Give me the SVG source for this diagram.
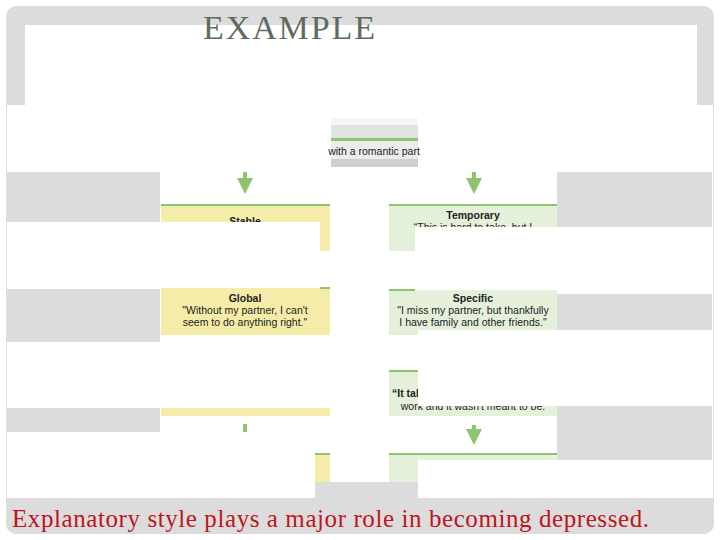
<svg xmlns="http://www.w3.org/2000/svg" width="720" height="540" viewBox="0 0 720 540">
<style>
.g{fill:#dcdcdc}.w{fill:#fff}.y{fill:#f4eca8}.lg{fill:#e5f0da}.gl{fill:#8dc46f}
.t{font-family:"Liberation Sans Narrow","Liberation Sans",sans-serif;font-size:10.5px;fill:#222;text-anchor:middle}
.b{font-weight:bold}
</style>
<defs><marker id="a" markerWidth="4" markerHeight="4" refX="2" refY="2" orient="auto"><path d="M0,0L4,2L0,4z" fill="#8dc46f"/></marker></defs>
<rect width="720" height="540" fill="#fff"/>
<rect x="6" y="6" width="708" height="528" rx="10" class="g"/>
<rect x="25" y="25" width="672" height="82" class="w"/>
<rect x="7" y="105" width="706" height="393" class="w"/>
<text x="203" y="39" font-family="Liberation Serif,serif" font-size="34" fill="#5e6b60" textLength="172">EXAMPLE</text>
<rect x="7" y="172" width="153" height="50" class="g"/>
<rect x="557" y="172" width="155" height="55" class="g"/>
<rect x="7" y="289" width="153" height="53" class="g"/>
<rect x="557" y="294" width="155" height="44" class="g"/>
<rect x="7" y="408" width="153" height="24" class="g"/>
<rect x="315" y="482" width="103" height="16" class="g"/>
<g id="top">
<rect x="331" y="118" width="87" height="7" fill="#f6f6f6"/>
<rect x="331" y="125" width="87" height="13" fill="#e3e3e3"/>
<rect x="331" y="138" width="87" height="3" class="gl"/>
<rect x="331" y="141" width="87" height="18" fill="#ececec"/>
<rect x="331" y="159" width="87" height="8" fill="#cfcfcf"/>
<text x="374" y="155" class="t">with a romantic part</text>
</g>
<g id="connectors" stroke="#8dc46f" stroke-width="4">
<line x1="245" y1="172" x2="245" y2="186" marker-end="url(#a)"/>
<line x1="474" y1="172" x2="474" y2="186" marker-end="url(#a)"/>
<line x1="474" y1="425" x2="474" y2="437" marker-end="url(#a)"/>
<line x1="245" y1="424" x2="245" y2="432"/>
</g>
<g id="stable">
<rect x="161" y="204" width="169" height="47" class="y"/>
<rect x="161" y="204" width="169" height="2" class="gl"/>
<text x="245" y="225" class="t b">Stable</text>
</g>
<g id="temporary">
<rect x="389" y="204" width="168" height="47" class="lg"/>
<rect x="389" y="204" width="168" height="2" class="gl"/>
<text x="473" y="219" class="t b">Temporary</text>
<text x="473" y="231" class="t">“This is hard to take, but I</text>
</g>
<rect x="7" y="222" width="313" height="66" class="w"/>
<rect x="415" y="227" width="297" height="66" class="w"/>
<g id="global">
<rect x="161" y="288" width="169" height="47" class="y"/>
<rect x="320" y="287" width="10" height="2" class="gl"/>
<text x="245" y="302" class="t b">Global</text>
<text x="245" y="314" class="t">"Without my partner, I can't</text>
<text x="245" y="326" class="t">seem to do anything right."</text>
</g>
<g id="specific">
<rect x="389" y="290" width="168" height="45" class="lg"/>
<rect x="389" y="289" width="26" height="2" class="gl"/>
<text x="473" y="302" class="t b">Specific</text>
<text x="473" y="314" class="t">"I miss my partner, but thankfully</text>
<text x="473" y="326" class="t">I have family and other friends."</text>
</g>
<g id="left3"><rect x="161" y="408" width="169" height="8" class="y"/></g>
<g id="right3">
<rect x="389" y="371" width="168" height="45" class="lg"/>
<rect x="389" y="370" width="168" height="2" class="gl"/>
<text x="392" y="397" class="t b" style="text-anchor:start">“It takes two to make a relationship</text>
<text x="473" y="410" class="t">work and it wasn't meant to be.</text>
</g>
<rect x="418" y="330" width="294" height="76" class="w"/>
<rect x="557" y="406" width="155" height="54" class="g"/>
<g id="left4">
<rect x="315" y="453" width="15" height="29" class="y"/>
<rect x="315" y="453" width="15" height="2" class="gl"/>
</g>
<g id="right4">
<rect x="389" y="453" width="168" height="29" class="lg"/>
<rect x="389" y="453" width="168" height="2" class="gl"/>
</g>
<rect x="10" y="432" width="305" height="66" class="w"/>
<rect x="418" y="460" width="294" height="34" class="w"/>
<text x="12" y="527" font-family="Liberation Serif,serif" font-size="25" fill="#c0141c" textLength="637">Explanatory style plays a major role in becoming depressed.</text>
</svg>
